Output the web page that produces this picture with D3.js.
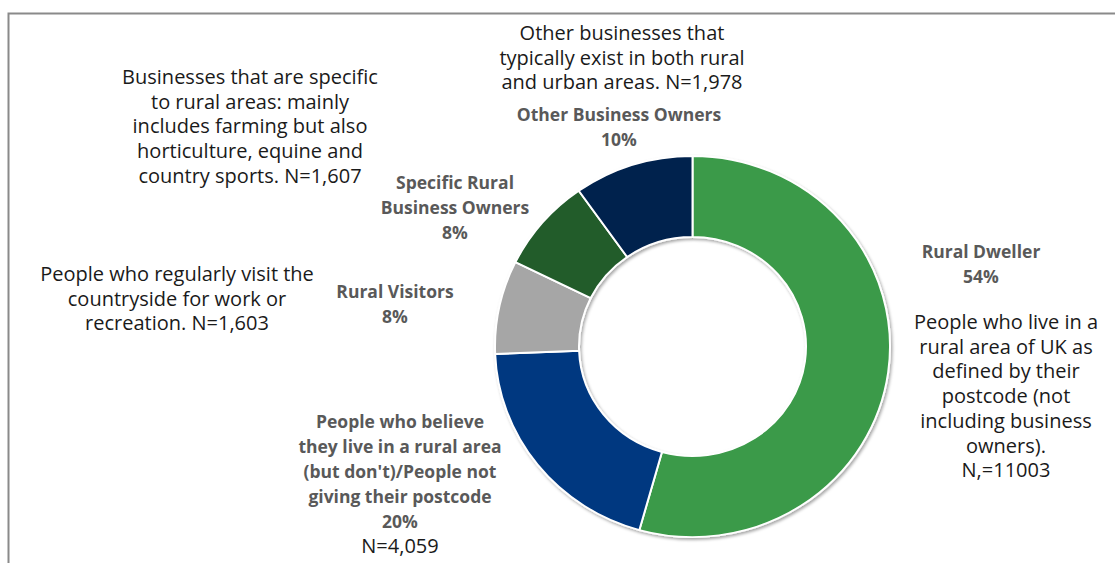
<!DOCTYPE html>
<html>
<head>
<meta charset="utf-8">
<script src="https://cdn.jsdelivr.net/npm/d3@7"></script>
<style>
  html, body { margin: 0; padding: 0; background: #ffffff; }
  svg { display: block; }
  .desc { font-family: "Open Sans", "Noto Sans", sans-serif; fill: #1a1a1a; }
  .cat { font-family: "Open Sans", "Noto Sans", sans-serif; font-weight: 700; fill: #595959; }
</style>
</head>
<body>
<svg id="chart" width="1115" height="563"></svg>
<script>
// Respondent groups, in drawing order (clockwise from 12 o'clock)
const categories = [
  "Rural Dweller",
  "People who believe they live in a rural area (but don't)/People not giving their postcode",
  "Rural Visitors",
  "Specific Rural Business Owners",
  "Other Business Owners"
];
const counts = [11003, 4059, 1603, 1607, 1978];
const colors = ["#3A9A48", "#003880", "#A6A6A6", "#205B2C", "#00214D"];

// Category label lines (the last line of each gets the share percentage)
const categoryLines = [
  ["Rural Dweller"],
  ["People who believe", "they live in a rural area", "(but don't)/People not", "giving their postcode"],
  ["Rural Visitors"],
  ["Specific Rural", "Business Owners"],
  ["Other Business Owners"]
];

// Descriptive text for each group
const descriptionLines = [
  ["People who live in a", "rural area of UK as", "defined by their", "postcode (not", "including business", "owners).", "N,=11003"],
  ["N=4,059"],
  ["People who regularly visit the", "countryside for work or", "recreation. N=1,603"],
  ["Businesses that are specific", "to rural areas: mainly", "includes farming but also", "horticulture, equine and", "country sports. N=1,607"],
  ["Other businesses that", "typically exist in both rural", "and urban areas. N=1,978"]
];

const svg = d3.select("#chart");

// Frame (top and left edges visible)
svg.append("path")
  .attr("d", "M8.5,563 L8.5,13.5 L1115,13.5")
  .attr("fill", "none")
  .attr("stroke", "#8a8a8a")
  .attr("stroke-width", 2);

const defs = svg.append("defs");
const f = defs.append("filter").attr("id", "shadow")
  .attr("x", "-10%").attr("y", "-10%").attr("width", "120%").attr("height", "120%");
f.append("feDropShadow")
  .attr("dx", 1.5).attr("dy", 2)
  .attr("stdDeviation", 1.6)
  .attr("flood-color", "#000")
  .attr("flood-opacity", 0.35);

const cx = 692.5, cy = 346.5;
const outerR = 197.5, innerR = 113.5;

const total = d3.sum(counts);
const pct = d3.format(".0%");

const pie = d3.pie().sort(null).value(d => d)
  .startAngle(0).endAngle(2 * Math.PI);
const arc = d3.arc().innerRadius(innerR).outerRadius(outerR);

const ring = svg.append("g")
  .attr("transform", `translate(${cx},${cy}) scale(1,0.965)`)
  .attr("filter", "url(#shadow)");

ring.selectAll("path")
  .data(pie(counts))
  .join("path")
  .attr("d", arc)
  .attr("fill", (d, i) => colors[i])
  .attr("stroke", "#ffffff")
  .attr("stroke-width", 2)
  .attr("stroke-linejoin", "round");

// Label placement: centre x and first-line centre y for each block
const catPos = [
  { x: 981, y: 252 },
  { x: 400, y: 422 },
  { x: 395, y: 292 },
  { x: 455, y: 183 },
  { x: 619, y: 115 }
];
const descPos = [
  { x: 1006, y: 322 },
  { x: 400, y: 546 },
  { x: 177, y: 274 },
  { x: 250, y: 77 },
  { x: 622, y: 33 }
];
const catLH = 25, descLH = 24.7;

categoryLines.forEach((lines, i) => {
  const all = lines.concat([pct(counts[i] / total)]);
  const t = svg.append("text").attr("class", "cat")
    .attr("text-anchor", "middle")
    .attr("font-size", 17.5);
  all.forEach((s, k) => {
    t.append("tspan")
      .attr("x", catPos[i].x)
      .attr("y", catPos[i].y + k * catLH)
      .attr("dy", "0.35em")
      .text(s);
  });
});

descriptionLines.forEach((lines, i) => {
  const t = svg.append("text").attr("class", "desc")
    .attr("text-anchor", "middle")
    .attr("font-size", 20);
  lines.forEach((s, k) => {
    t.append("tspan")
      .attr("x", descPos[i].x)
      .attr("y", descPos[i].y + k * descLH)
      .attr("dy", "0.35em")
      .text(s);
  });
});
</script>
</body>
</html>
